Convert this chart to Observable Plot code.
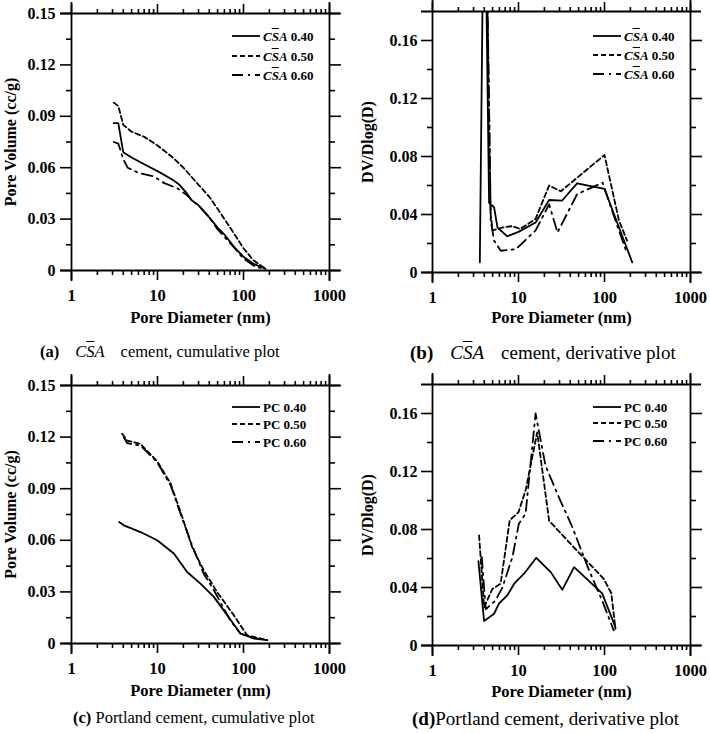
<!DOCTYPE html>
<html><head><meta charset="utf-8">
<script src="https://cdn.jsdelivr.net/npm/d3@7"></script>
<script src="https://cdn.jsdelivr.net/npm/@observablehq/plot@0.6"></script>
<style>
body{margin:0;background:#fff}
#root{position:relative;width:710px;height:733px;background:#fff;font-family:"Liberation Serif","Times New Roman",serif;color:#000;overflow:hidden}
.panel{position:absolute}
.panel svg, .panel svg text{font-family:"Liberation Serif","Times New Roman",serif !important;font-weight:bold}
.lrow{position:absolute;display:flex;align-items:center;font-weight:bold;font-size:13px;line-height:1;white-space:nowrap}
.lrow svg{display:block;margin-right:3px}
.cap{position:absolute;line-height:1;white-space:nowrap}
.cap span{display:inline-block}
.ov{text-decoration:overline}
</style></head><body><div id="root"></div>
<script>
// ---- axis tick values ----
const xDomain = [1, 1000];
const xMajor = [1, 10, 100, 1000];
const xMinor = [2,3,4,5,6,7,8,9,20,30,40,50,60,70,80,90,200,300,400,500,600,700,800,900];
const yDomCum = [0, 0.15];
const yMajCum = [0, 0.03, 0.06, 0.09, 0.12, 0.15];
const yMinCum = [0.015, 0.045, 0.075, 0.105, 0.135];
const yDomDer = [0, 0.18];
const yMajDer = [0, 0.04, 0.08, 0.12, 0.16];
const yMinDer = [0.02, 0.06, 0.10, 0.14];

// ---- (a) CSA cumulative ----
const aD40 = [3.1, 3.5, 4.0, 5, 7, 10, 15, 18, 22, 25, 30, 40, 50, 60, 80, 100, 130, 180];
const aV40 = [0.086, 0.086, 0.069, 0.066, 0.062, 0.058, 0.053, 0.050, 0.045, 0.041, 0.038, 0.031, 0.025, 0.021, 0.013, 0.008, 0.004, 0.001];
const aD50 = [3.1, 3.5, 4.0, 5, 7, 10, 15, 20, 30, 40, 50, 70, 100, 130, 180];
const aV50 = [0.098, 0.096, 0.085, 0.081, 0.078, 0.073, 0.066, 0.060, 0.050, 0.043, 0.036, 0.025, 0.013, 0.006, 0.001];
const aD60 = [3.1, 3.5, 4.0, 4.5, 6, 9, 12, 17, 22, 25, 30, 40, 50, 70, 100, 140, 180];
const aV60 = [0.075, 0.074, 0.065, 0.060, 0.057, 0.055, 0.051, 0.048, 0.044, 0.041, 0.038, 0.031, 0.024, 0.016, 0.007, 0.002, 0.001];

// ---- (b) CSA derivative ----
const bD40 = [3.55, 4.0, 4.55, 5.2, 5.7, 7.4, 10, 15.8, 22.7, 32, 48, 100, 210];
const bV40 = [0.007, 0.30, 0.048, 0.045, 0.031, 0.025, 0.028, 0.0345, 0.050, 0.0495, 0.0615, 0.0576, 0.007];
const bD50 = [3.85, 4.05, 4.75, 5.0, 6.5, 8.5, 10.5, 15.8, 22.7, 31, 100, 147, 183];
const bV50 = [0.25, 0.30, 0.040, 0.029, 0.031, 0.032, 0.030, 0.037, 0.060, 0.056, 0.081, 0.036, 0.022];
const bD60 = [3.9, 4.1, 4.75, 5.2, 6.2, 9.3, 15.8, 22.7, 28.4, 48, 95, 147, 183];
const bV60 = [0.25, 0.30, 0.036, 0.022, 0.015, 0.016, 0.029, 0.047, 0.0276, 0.054, 0.062, 0.029, 0.013];

// ---- (c) PC cumulative ----
const cD40 = [3.58, 4.06, 6.35, 9.9, 15.5, 22.1, 31.6, 45.2, 64.6, 92, 132, 189];
const cV40 = [0.0706, 0.0687, 0.0648, 0.060, 0.0523, 0.0416, 0.0348, 0.0271, 0.0165, 0.0058, 0.0029, 0.0019];
const cD50 = [3.88, 4.43, 6.35, 9.9, 14.2, 19.4, 25.3, 34.4, 49.2, 77, 110, 189];
const cV50 = [0.122, 0.118, 0.116, 0.106, 0.093, 0.0735, 0.056, 0.0426, 0.030, 0.0165, 0.0048, 0.0019];
const cD60 = [4.06, 4.43, 6.35, 9.9, 14.2, 19.4, 25.3, 34.4, 45.2, 70, 92, 132];
const cV60 = [0.120, 0.1165, 0.115, 0.1055, 0.092, 0.0726, 0.057, 0.0406, 0.031, 0.0135, 0.0058, 0.0029];

// ---- (d) PC derivative ----
const dD40 = [3.42, 3.98, 5.2, 5.95, 7.4, 8.9, 11.6, 16.1, 23.7, 32.3, 44.3, 94, 134];
const dV40 = [0.0582, 0.0168, 0.0219, 0.029, 0.0345, 0.0426, 0.0495, 0.0605, 0.0506, 0.0384, 0.054, 0.036, 0.0127];
const dD50 = [3.48, 3.98, 4.97, 6.2, 7.9, 10, 12.1, 16.5, 22.7, 42, 98, 120, 134];
const dV50 = [0.076, 0.0265, 0.039, 0.0426, 0.0863, 0.092, 0.107, 0.147, 0.086, 0.069, 0.046, 0.036, 0.0115];
const dD60 = [3.74, 4.16, 5.4, 6.5, 8.5, 10.1, 12.1, 15.8, 20.6, 29.6, 42, 66, 94, 128];
const dV60 = [0.061, 0.025, 0.031, 0.040, 0.061, 0.084, 0.091, 0.16, 0.124, 0.102, 0.082, 0.052, 0.031, 0.0104];

// ---- legend labels ----
const ratios = ["0.40", "0.50", "0.60"];
const dashes = [null, "5,3", "11,5,2,5"];
const SW = 1.8;
const FONT = "'Liberation Serif','Times New Roman',serif";

const toRows = (D, V) => D.map((d, i) => ({d, v: V[i]}));
const fmtY = d => d === 0 ? "0" : d.toFixed(2);
const blank = () => "";

function makePanel(cfg) {
  const m = cfg.margin;
  const common = {stroke: "#000", strokeWidth: 1.6};
  const txt = {fontFamily: FONT, fontWeight: "bold"};
  const marks = [
    Plot.axisY({anchor: "left", ticks: cfg.yMaj, tickSize: 11, tickPadding: cfg.tickPadY, tickFormat: fmtY,
      label: cfg.ylabel, labelAnchor: "center", labelArrow: "none", labelOffset: cfg.ylabelOffset,
      fontSize: 16, ...txt, ...common}),
    Plot.axisY({anchor: "left", ticks: cfg.yMin, tickSize: 5, tickFormat: blank, label: null, ...common}),
    Plot.axisY({anchor: "right", ticks: cfg.yMaj, tickSize: 11, tickFormat: blank, label: null, ...common}),
    Plot.axisY({anchor: "right", ticks: cfg.yMin, tickSize: 5, tickFormat: blank, label: null, ...common}),
    Plot.axisX({anchor: "bottom", ticks: xMajor, tickSize: 10, tickPadding: 9, tickFormat: d => String(d),
      label: "Pore Diameter (nm)", labelAnchor: "center", labelArrow: "none", labelOffset: cfg.xlabelOffset,
      fontSize: 16.5, ...txt, ...common}),
    Plot.axisX({anchor: "bottom", ticks: xMinor, tickSize: 5, tickFormat: blank, label: null, ...common}),
    Plot.axisX({anchor: "top", ticks: xMajor, tickSize: 10, tickFormat: blank, label: null, ...common}),
    Plot.axisX({anchor: "top", ticks: xMinor, tickSize: 5, tickFormat: blank, label: null, ...common}),
    Plot.ruleY(cfg.yDom, {stroke: "#000", strokeWidth: 1.8, insetLeft: -11, insetRight: -11}),
    Plot.ruleX(xDomain, {stroke: "#000", strokeWidth: 1.8, insetTop: -11, insetBottom: -11})
  ];
  cfg.series.forEach((s, i) => {
    marks.push(Plot.line(toRows(s[0], s[1]), {x: "d", y: "v", stroke: "#000", strokeWidth: SW,
      strokeDasharray: dashes[i] || undefined, clip: true}));
  });
  return Plot.plot({
    width: 355, height: 340,
    marginLeft: m[0], marginRight: m[1], marginTop: m[2], marginBottom: m[3],
    x: {type: "log", domain: xDomain},
    y: {domain: cfg.yDom},
    style: {fontFamily: FONT, fontWeight: "bold", fontSize: "16px", background: "transparent", color: "#000", overflow: "visible"},
    marks
  });
}

const root = document.getElementById("root");
function place(el, left, top) {
  const wrap = document.createElement("div");
  wrap.className = "panel";
  wrap.style.left = left + "px"; wrap.style.top = top + "px";
  wrap.appendChild(el);
  root.appendChild(wrap);
}

place(makePanel({yDom: yDomCum, yMaj: yMajCum, yMin: yMinCum, ylabel: "Pore Volume (cc/g)", tickPadY: 5,
  ylabelOffset: 67, xlabelOffset: 52, margin: [71, 26, 13, 70],
  series: [[aD40, aV40], [aD50, aV50], [aD60, aV60]]}), 0, 0);
place(makePanel({yDom: yDomDer, yMaj: yMajDer, yMin: yMinDer, ylabel: "DV/Dlog(D)", tickPadY: 4,
  ylabelOffset: 71, xlabelOffset: 50, margin: [77, 20, 11, 68],
  series: [[bD40, bV40], [bD50, bV50], [bD60, bV60]]}), 355, 0);
place(makePanel({yDom: yDomCum, yMaj: yMajCum, yMin: yMinCum, ylabel: "Pore Volume (cc/g)", tickPadY: 5,
  ylabelOffset: 67, xlabelOffset: 52, margin: [71, 26, 15, 67],
  series: [[cD40, cV40], [cD50, cV50], [cD60, cV60]]}), 0, 370);
place(makePanel({yDom: yDomDer, yMaj: yMajDer, yMin: yMinDer, ylabel: "DV/Dlog(D)", tickPadY: 4,
  ylabelOffset: 71, xlabelOffset: 51, margin: [77, 20, 14, 65],
  series: [[dD40, dV40], [dD50, dV50], [dD60, dV60]]}), 355, 370);

// ---- legends ----
const csaName = '<i>C<span class="ov">S</span>A</i>';
function legend(x, ys, prefix) {
  ys.forEach((y, i) => {
    const row = document.createElement("div");
    row.className = "lrow";
    row.style.left = x + "px"; row.style.top = (y - 8) + "px"; row.style.height = "16px";
    const da = dashes[i] ? ` stroke-dasharray="${dashes[i]}"` : "";
    row.innerHTML = `<svg width="28" height="6"><line x1="0" y1="3" x2="28" y2="3" stroke="#000" stroke-width="${SW}"${da}/></svg><span>${prefix} ${ratios[i]}</span>`;
    root.appendChild(row);
  });
}
legend(232, [36, 56, 75], csaName);
legend(593, [36, 55, 74], csaName);
legend(232, [407, 424, 442], "PC");
legend(593, [407, 423, 441], "PC");

// ---- captions ----
function caption(x, y, size, html) {
  const c = document.createElement("div");
  c.className = "cap";
  c.style.fontSize = size + "px";
  c.style.left = x + "px"; c.style.top = (y - size / 2) + "px";
  c.innerHTML = html;
  root.appendChild(c);
}
caption(40, 352, 16.5, `<b>(a)</b><span style="width:16px"></span><i>C<span class="ov">S</span>A</i><span style="width:16px"></span>cement, cumulative plot`);
caption(410, 352, 19, `<b>(b)</b><span style="width:17px"></span><i>C<span class="ov">S</span>A</i><span style="width:17px"></span>cement, derivative plot`);
caption(73, 718, 16.5, `<b>(c)</b> Portland cement, cumulative plot`);
caption(412, 718, 19, `<b>(d)</b>Portland cement, derivative plot`);
</script></body></html>
